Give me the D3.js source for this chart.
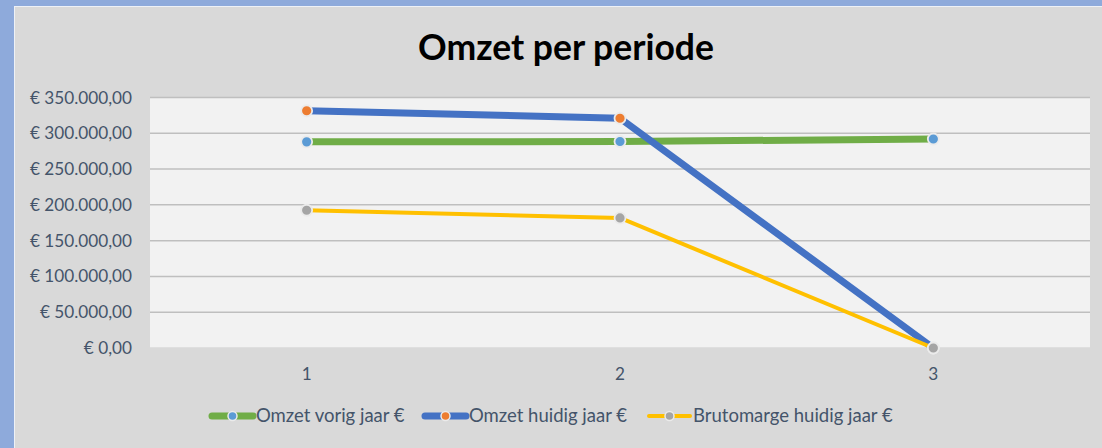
<!DOCTYPE html>
<html>
<head>
<meta charset="utf-8">
<script src="https://cdn.jsdelivr.net/npm/d3@7"></script>
<style>
  html, body { margin: 0; padding: 0; background: #8eaadb; }
  #chart { width: 1102px; height: 448px; }
  text { font-family: Lato, "Open Sans", sans-serif; }
</style>
</head>
<body>
<div id="chart"></div>
<script>
// categories (periods) and series values
const periods = ["1", "2", "3"];
const seriesNames = ["Omzet vorig jaar €", "Omzet huidig jaar €", "Brutomarge huidig jaar €"];
const omzetVorig = [288000, 288500, 292000];
const omzetHuidig = [331500, 321000, 0];
const brutomarge = [192500, 181800, 0];
const yTicks = [0, 50000, 100000, 150000, 200000, 250000, 300000, 350000];

// line / marker colours per series
const lineColors = ["#70ad47", "#4472c4", "#ffc000"];
const markerColors = ["#5b9bd5", "#ed7d31", "#a5a5a5"];
const lineWidths = [7, 7, 4];

const W = 1102, H = 448;
const margin = {top: 97.5, right: 12, bottom: 100, left: 150};
const width = W - margin.left - margin.right;
const height = H - margin.top - margin.bottom;

const svg = d3.select("#chart").append("svg")
    .attr("width", W)
    .attr("height", H);

// chart panel
svg.append("rect")
    .attr("x", 14).attr("y", 6)
    .attr("width", W - 14).attr("height", H - 6)
    .attr("fill", "#eef1f6");
svg.append("rect")
    .attr("x", 15).attr("y", 7)
    .attr("width", W - 15).attr("height", H - 7)
    .attr("fill", "#d9d9d9");

// title
svg.append("text")
    .attr("x", 566).attr("y", 60)
    .attr("text-anchor", "middle")
    .attr("font-size", 35.5)
    .attr("font-weight", "bold")
    .attr("fill", "#000")
    .text("Omzet per periode");

const g = svg.append("g")
    .attr("transform", `translate(${margin.left},${margin.top})`);

// plot area
g.append("rect")
    .attr("width", width).attr("height", height)
    .attr("fill", "#f2f2f2");

const x = d3.scaleBand().domain(periods).range([0, width]);
const y = d3.scaleLinear().domain([0, 350000]).range([height, 0]);

const fmt = v => "€ " + d3.format(",.2f")(v).replace(/,/g, "#").replace(".", ",").replace(/#/g, ".");

// gridlines
g.selectAll(".grid")
    .data(yTicks)
    .enter()
    .append("line")
    .attr("x1", 0).attr("x2", width)
    .attr("y1", d => y(d)).attr("y2", d => y(d))
    .attr("stroke", d => d === 0 ? "#d9d9d9" : "#bfbfbf")
    .attr("stroke-width", 1.5);

// y axis labels
const yAxis = g.append("g")
    .call(d3.axisLeft(y).tickValues(yTicks).tickFormat(fmt).tickSize(0).tickPadding(18));
yAxis.select(".domain").remove();
yAxis.selectAll("text")
    .attr("font-family", "Lato, sans-serif")
    .attr("font-size", 17.2)
    .attr("fill", "#44546a");

// x axis labels
const xAxis = g.append("g")
    .attr("transform", `translate(0,${height})`)
    .call(d3.axisBottom(x).tickSize(0).tickPadding(20));
xAxis.select(".domain").remove();
xAxis.selectAll("text")
    .attr("font-family", "Lato, sans-serif")
    .attr("font-size", 17.2)
    .attr("fill", "#44546a");

const allSeries = [omzetVorig, omzetHuidig, brutomarge];

const line = d3.line()
    .x((d, i) => x(periods[i]) + x.bandwidth() / 2)
    .y(d => y(d));

allSeries.forEach((vals, s) => {
    g.append("path")
        .datum(vals)
        .attr("d", line)
        .attr("fill", "none")
        .attr("stroke", lineColors[s])
        .attr("stroke-width", lineWidths[s])
        .attr("stroke-linejoin", "round");

    g.selectAll(".m" + s)
        .data(vals)
        .enter()
        .append("circle")
        .attr("cx", (d, i) => x(periods[i]) + x.bandwidth() / 2)
        .attr("cy", d => y(d))
        .attr("r", 5.5)
        .attr("fill", markerColors[s])
        .attr("stroke", "#ebebeb")
        .attr("stroke-width", 1.8);
});

// legend
const legendX = [210, 423, 647];
const legend = svg.append("g").attr("transform", "translate(0,416)");
seriesNames.forEach((name, s) => {
    const lg = legend.append("g").attr("transform", `translate(${legendX[s]},0)`);
    lg.append("line")
        .attr("x1", 2).attr("x2", 43)
        .attr("y1", 0).attr("y2", 0)
        .attr("stroke", lineColors[s])
        .attr("stroke-width", lineWidths[s])
        .attr("stroke-linecap", "round");
    lg.append("circle")
        .attr("cx", 22.5).attr("cy", 0)
        .attr("r", 4.5)
        .attr("fill", markerColors[s])
        .attr("stroke", "#ebebeb")
        .attr("stroke-width", 1.5);
    lg.append("text")
        .attr("x", 46).attr("y", 0)
        .attr("dy", "0.35em")
        .attr("font-size", 18.5)
        .attr("fill", "#44546a")
        .text(name);
});
</script>
</body>
</html>
